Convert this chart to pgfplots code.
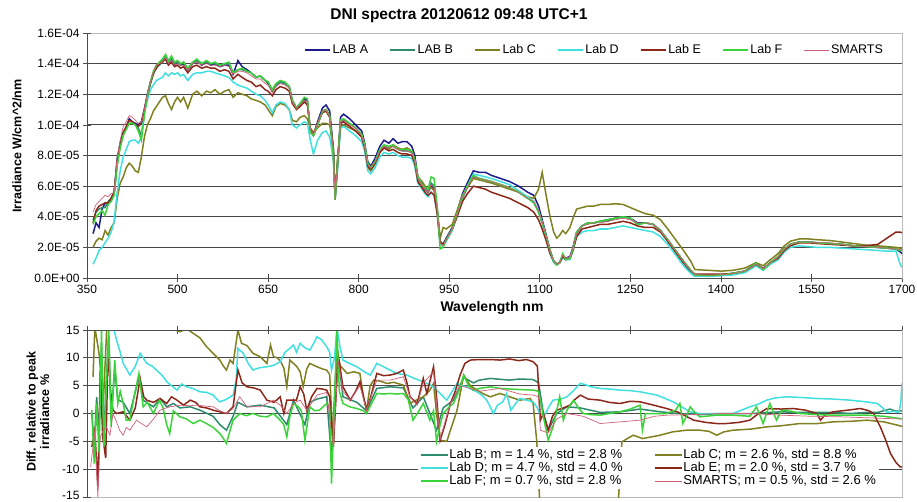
\documentclass[border=0pt]{standalone}
\usepackage{fontspec}
\setmainfont{Liberation Sans}
\usepackage{pgfplots}
\usepackage{pgfplotstable}
\pgfplotsset{compat=1.18}

\definecolor{labA}{RGB}{28,28,140}
\definecolor{labB}{RGB}{46,139,111}
\definecolor{labC}{RGB}{128,128,32}
\definecolor{labD}{RGB}{64,224,224}
\definecolor{labE}{RGB}{140,40,26}
\definecolor{labF}{RGB}{58,212,58}
\definecolor{smarts}{RGB}{208,96,120}

% spectral irradiance, in units of 1e-5 W/cm^2/nm
\pgfplotstableread{
wl A B C D E F S
360 2.9 3.8 2.0 0.9 3.6 3.5 4.3
365 3.6 4.3 2.4 1.3 4.4 4.0 4.8
370 3.3 4.5 2.6 1.8 4.7 4.2 5.0
375 4.5 4.6 2.5 2.0 4.8 4.4 5.2
380 4.9 4.6 3.1 2.3 4.9 4.1 5.4
385 4.8 5.0 2.8 2.6 4.9 4.8 5.3
390 5.2 5.2 3.3 3.0 5.2 5.0 5.5
395 5.6 5.5 3.6 3.7 5.6 5.4 5.6
400 7.8 7.5 5.2 5.6 7.6 7.3 7.9
405 8.8 8.6 6.2 7.0 8.7 8.5 9.0
410 9.5 9.4 6.6 7.9 9.5 9.3 9.9
415 9.8 9.8 7.2 8.4 9.9 9.7 10.2
420 10.4 10.1 7.5 8.9 10.3 10.1 10.6
425 10.2 10.1 7.3 9.0 10.2 10.1 10.5
430 10.1 10.0 7.0 9.0 10.0 10.0 10.3
435 10.0 9.8 6.9 8.8 9.9 9.6 10.1
440 10.2 9.3 7.9 9.2 10.1 9.0 10.2
445 11.0 10.8 9.2 10.8 11.0 10.6 11.0
450 12.0 11.9 10.0 11.6 11.9 11.9 12.0
455 12.8 12.7 10.4 12.3 12.7 12.8 12.8
460 13.4 13.3 10.9 12.6 13.4 13.5 13.5
465 13.9 13.8 11.2 12.9 13.7 13.9 13.9
470 14.0 13.9 11.5 13.0 14.0 14.1 14.0
475 14.1 14.1 11.8 13.1 14.1 14.3 14.1
480 14.4 14.5 11.9 13.4 14.3 14.6 14.4
485 14.0 14.0 11.4 13.2 13.9 14.2 14.0
490 14.2 14.3 11.0 13.4 14.1 14.5 14.2
495 13.9 14.0 11.5 13.3 13.8 14.1 13.9
500 14.1 14.1 11.8 13.4 13.9 14.2 14.0
505 13.9 13.9 11.5 13.2 13.7 14.0 13.9
510 14.0 14.1 11.8 13.3 13.8 14.1 13.9
517 13.6 13.6 11.1 12.9 13.4 13.7 13.6
525 14.0 14.0 12.0 13.3 13.8 14.1 14.0
532 14.2 14.2 12.2 13.4 13.9 14.3 14.1
540 13.9 14.0 11.9 13.4 13.7 14.0 13.9
548 14.1 14.1 12.2 13.5 13.8 14.2 14.0
555 13.9 14.0 12.1 13.5 13.7 14.0 13.9
562 14.0 14.0 12.3 13.4 13.7 14.1 13.9
570 13.8 13.9 12.0 13.3 13.5 13.9 13.8
578 13.9 14.0 12.2 13.2 13.6 14.0 13.9
585 13.9 14.0 12.3 13.1 13.5 14.1 13.8
592 13.3 13.4 11.8 12.8 13.0 13.4 13.3
600 14.2 13.6 12.1 12.6 13.3 13.6 13.5
607 13.8 13.6 12.0 12.5 13.1 13.7 13.5
615 13.6 13.5 11.9 12.4 12.9 13.5 13.4
622 13.4 13.4 11.7 12.2 12.8 13.4 13.2
630 13.1 13.1 11.6 12.0 12.5 13.1 13.0
637 13.2 13.2 11.5 11.9 12.6 13.2 13.0
645 12.9 12.9 11.3 11.6 12.3 12.9 12.7
650 12.7 12.8 11.0 11.3 12.2 12.8 12.6
657 12.2 12.2 10.6 10.8 11.9 12.3 12.1
663 12.6 12.6 11.2 11.3 12.3 12.7 12.5
670 12.8 12.8 11.4 11.5 12.5 12.9 12.7
678 12.7 12.7 11.3 11.4 12.4 12.8 12.6
685 12.5 12.5 11.0 11.0 12.2 12.5 12.4
690 11.6 11.6 10.3 10.0 11.4 11.6 11.5
697 11.1 11.1 10.2 9.8 11.0 11.1 11.1
703 11.4 11.3 10.5 10.0 11.2 11.4 11.3
710 11.7 11.6 10.6 10.2 11.5 11.8 11.6
715 11.6 11.5 10.4 10.1 11.3 11.7 11.5
720 9.6 9.6 9.8 9.0 9.7 9.5 9.7
725 9.3 9.3 9.5 8.1 9.4 9.3 9.4
732 10.2 10.0 9.8 9.0 10.1 10.0 10.1
740 11.1 10.9 10.1 9.5 10.8 10.9 10.9
746 11.3 11.0 10.1 9.6 10.9 11.0 11.0
752 10.9 10.6 10.0 9.2 10.5 10.6 10.6
758 8.5 8.3 8.5 7.8 8.3 8.0 8.4
761 5.3 5.4 5.1 5.2 5.2 5.2 5.3
765 7.5 7.4 7.8 7.0 7.4 7.5 7.5
770 10.5 10.2 9.9 9.8 10.1 10.3 10.2
775 10.7 10.3 10.0 9.9 10.2 10.4 10.3
785 10.4 10.1 9.8 9.6 9.9 10.1 10.0
795 10.0 9.8 9.6 9.3 9.6 9.8 9.8
805 9.6 9.3 9.2 8.9 9.2 9.4 9.3
810 8.8 8.6 8.5 8.3 8.5 8.7 8.6
815 7.6 7.4 7.2 7.0 7.3 7.5 7.4
820 7.3 7.2 7.0 6.8 7.1 7.2 7.2
827 7.8 7.6 7.4 7.2 7.5 7.6 7.6
835 8.6 8.3 8.2 7.9 8.2 8.4 8.3
842 9.0 8.6 8.5 8.2 8.5 8.7 8.6
850 8.8 8.5 8.4 8.1 8.3 8.6 8.5
857 9.1 8.6 8.7 8.2 8.4 8.7 8.6
865 8.8 8.4 8.5 8.0 8.2 8.4 8.4
872 8.9 8.3 8.4 7.9 8.1 8.4 8.3
880 8.9 8.3 8.5 7.9 8.1 8.4 8.3
888 8.6 8.2 8.3 7.8 8.0 8.3 8.2
893 8.0 7.6 7.7 7.3 7.5 7.7 7.6
898 6.6 6.5 6.6 6.2 6.3 6.6 6.5
905 6.2 6.1 6.3 5.8 5.9 6.1 6.1
910 5.8 5.8 6.0 5.5 5.6 5.9 5.8
915 5.6 5.6 5.8 5.3 5.4 5.8 5.6
920 6.0 6.2 5.9 5.6 5.6 6.6 6.1
925 5.8 6.0 5.7 5.4 5.4 6.5 5.9
930 4.4 4.6 4.5 4.3 4.2 4.7 4.5
935 2.4 2.3 2.6 2.2 2.3 1.9 2.3
940 2.2 2.1 3.3 2.1 2.2 2.0 2.1
945 2.6 2.5 3.2 2.4 2.5 2.5 2.5
955 3.3 3.2 3.5 3.1 3.2 3.2 3.2
963 4.3 4.1 4.4 4.1 4.0 4.2 4.2
972 5.5 5.2 5.4 5.3 5.0 5.3 5.3
980 6.2 5.9 5.9 6.0 5.5 6.0 5.9
990 7.0 6.6 6.5 6.8 6.0 6.7 6.6
1000 6.9 6.5 6.4 6.7 5.9 6.5 6.5
1010 6.9 6.4 6.3 6.6 5.8 6.4 6.4
1020 6.7 6.3 6.2 6.5 5.6 6.3 6.3
1035 6.5 6.1 6.0 6.3 5.4 6.1 6.1
1050 6.3 5.9 5.8 6.1 5.2 5.9 5.9
1065 6.0 5.6 5.6 5.7 4.9 5.6 5.6
1080 5.6 5.2 5.3 5.3 4.6 5.2 5.2
1090 5.4 5.0 5.2 5.0 4.3 4.9 5.0
1098 4.7 4.3 5.8 4.4 3.8 4.3 4.4
1104 3.8 3.6 6.9 3.6 3.2 3.6 3.7
1110 2.9 2.8 5.5 2.7 2.5 2.8 2.8
1117 1.8 1.8 4.0 1.6 1.6 1.8 1.8
1123 1.1 1.1 3.0 1.0 1.1 1.1 1.1
1128 0.9 0.9 2.6 0.85 0.9 0.85 0.9
1133 1.0 1.0 2.8 1.0 1.0 1.0 1.0
1138 1.5 1.4 3.1 1.3 1.4 1.6 1.5
1143 1.3 1.2 2.9 1.2 1.2 1.2 1.3
1150 1.4 1.3 3.3 1.2 1.3 1.3 1.4
1155 2.0 1.9 3.9 1.8 1.8 1.9 2.0
1161 3.0 2.9 4.5 2.7 2.7 3.0 2.9
1170 3.4 3.4 4.6 3.0 3.2 3.4 3.4
1180 3.6 3.6 4.7 3.1 3.3 3.6 3.5
1190 3.6 3.6 4.7 3.1 3.4 3.6 3.6
1200 3.7 3.7 4.8 3.2 3.5 3.7 3.6
1212 3.8 3.7 4.8 3.2 3.5 3.8 3.7
1225 3.9 3.9 4.85 3.3 3.6 3.9 3.8
1238 4.0 4.0 4.8 3.4 3.7 4.0 3.9
1250 3.9 3.9 4.6 3.3 3.6 3.9 3.8
1262 3.6 3.5 4.4 3.2 3.4 3.5 3.6
1275 3.6 3.6 4.2 3.1 3.3 3.6 3.6
1288 3.5 3.5 4.1 3.0 3.3 3.5 3.5
1300 3.1 3.1 3.8 2.7 3.0 3.1 3.1
1312 2.4 2.5 3.2 2.2 2.4 2.5 2.5
1325 1.7 1.8 2.5 1.5 1.7 1.8 1.8
1338 1.0 1.1 1.8 0.8 1.0 1.1 1.1
1350 0.4 0.5 1.1 0.3 0.5 0.5 0.5
1357 0.15 0.2 0.55 0.1 0.25 0.2 0.2
1380 0.15 0.15 0.5 0.1 0.25 0.15 0.2
1400 0.2 0.2 0.45 0.15 0.25 0.2 0.2
1420 0.3 0.3 0.5 0.2 0.3 0.3 0.3
1440 0.45 0.45 0.65 0.35 0.45 0.45 0.45
1458 0.95 0.9 1.0 0.8 0.9 0.95 0.9
1470 0.6 0.6 0.8 0.5 0.6 0.55 0.6
1482 1.0 1.0 1.2 0.9 1.0 1.0 1.0
1495 1.4 1.4 1.6 1.2 1.3 1.4 1.4
1505 1.9 1.9 2.1 1.7 1.8 1.9 1.9
1515 2.2 2.2 2.4 2.0 2.1 2.2 2.2
1530 2.35 2.35 2.55 2.1 2.3 2.35 2.35
1545 2.35 2.35 2.55 2.05 2.3 2.35 2.35
1560 2.3 2.3 2.5 2.0 2.25 2.3 2.3
1580 2.25 2.25 2.45 2.0 2.2 2.25 2.3
1600 2.2 2.2 2.35 1.95 2.15 2.2 2.2
1620 2.1 2.1 2.25 1.9 2.1 2.1 2.1
1640 2.05 2.05 2.15 1.85 2.1 2.05 2.05
1660 2.0 2.0 2.1 1.8 2.2 2.0 2.0
1675 1.95 1.95 2.05 1.75 2.6 1.95 1.95
1690 1.9 1.9 2.0 1.75 3.0 1.9 1.9
1697 1.7 1.8 1.95 0.9 3.0 1.8 1.85
1700 1.6 1.8 1.95 0.7 2.95 1.8 1.85
}\topdata

\pgfplotsset{
  myaxis/.style={
    scale only axis, width=815pt,
    xmin=350, xmax=1700,
    xtick={350,500,...,1700},
    /pgf/number format/assume math mode=true,
    /pgf/number format/1000 sep={},
    tick label style={font=\fontsize{12}{14}\selectfont, text=black},
    tick align=center, major tick length=8pt,
    tick style={black!70, line width=0.7pt},
    ytick pos=left,
    axis line style={draw=gray!55, line width=0.8pt},
    ymajorgrids, grid style={black!72, line width=0.9pt},
    legend cell align=left,
  },
  legimg/.style={legend image code/.code={\draw[##1] (0pt,0pt) -- (#1,0pt);}},
  lab/.style={line width=1.5pt, #1},
}

\begin{document}
\begin{tikzpicture}
\useasboundingbox (0pt,0pt) rectangle (917pt,501pt);

% ---------- top: spectra ----------
\begin{axis}[myaxis,
  at={(87pt,223pt)}, anchor=south west, height=245pt,
  ymin=0, ymax=16,
  xtick pos=left,
  ytick={0,2,...,14},
  yticklabels={0.0E+00,2.0E-05,4.0E-05,6.0E-05,8.0E-05,1.0E-04,1.2E-04,1.4E-04},
  extra y ticks={16}, extra y tick labels={1.6E-04},
  extra y tick style={grid=none},
  legend columns=7, legimg=25pt,
  legend style={draw=none, fill=white, at={(0.983,0.931)}, anchor=east,
    font=\fontsize{12.5}{14}\selectfont, inner sep=3pt,
    /tikz/every even column/.append style={column sep=19pt}},
]
\addplot[lab=labA] table[x=wl,y=A] {\topdata}; \addlegendentry{LAB A}
\addplot[lab=labB] table[x=wl,y=B] {\topdata}; \addlegendentry{LAB B}
\addplot[lab=labC] table[x=wl,y=C] {\topdata}; \addlegendentry{Lab C}
\addplot[lab=labD] table[x=wl,y=D] {\topdata}; \addlegendentry{Lab D}
\addplot[lab=labE] table[x=wl,y=E] {\topdata}; \addlegendentry{Lab E}
\addplot[lab=labF] table[x=wl,y=F] {\topdata}; \addlegendentry{Lab F}
\addplot[smarts, line width=0.7pt] table[x=wl,y=S] {\topdata}; \addlegendentry{SMARTS}
\draw[black!70, line width=0.9pt] (rel axis cs:0,1) -- (rel axis cs:0,0) -- (rel axis cs:1,0);
\end{axis}

% ---------- bottom: differences ----------
\begin{axis}[myaxis,
  at={(87pt,4pt)}, anchor=south west, height=167pt,
  ymin=-15, ymax=15,
  xtick pos=right, xticklabels={},
  ytick={-10,-5,...,15},
  yticklabels={-10,-5,0,5,10,15},
  extra y ticks={-15}, extra y tick labels={-15},
  extra y tick style={grid=none, tick label style={yshift=2pt}},
  legend columns=2, legimg=27pt,
  legend style={draw=none, fill=white, at={(0.972,0.174)}, anchor=east,
    font=\fontsize{13}{14}\selectfont, inner sep=2pt,
    nodes={inner sep=1pt},
    /tikz/every even column/.append style={column sep=30pt}},
]
\addplot[lab=labB] coordinates {(358,0)(362,-6)(366,3)(370,-4)(374,12)(378,-4)(382,6)(386,14)(390,-1)(396,8)(401,2.5)(410,2)(421,0)(436,6.5)(443,2.4)(460,1.2)(471,2.7)(482,1.2)(493,1.8)(504,1.0)(521,1.2)(537,0.6)(559,-0.5)(570,-2)(581,-3)(592,-0.5)(600,2)(615,1.2)(637,1.5)(660,1.0)(681,-2)(692,2.4)(711,-2)(719,2)(731,2.6)(747,3)(755,-8)(764,12)(774,3)(797,2)(813,0.5)(830,4.5)(852,4.8)(874,4.6)(890,1)(907,3)(929,-3)(940,1)(957,2.4)(974,6.5)(990,5.5)(1000,6.0)(1018,6.3)(1050,6.0)(1067,6.2)(1089,6.1)(1098,5.5)(1106,0)(1114,-3)(1128,0)(1145,1.2)(1167,1.0)(1200,0.2)(1233,0.3)(1266,0.8)(1300,0.3)(1330,0)(1365,-0.2)(1400,0)(1450,0)(1500,0.3)(1530,0.2)(1586,0.2)(1614,0)(1642,0.2)(1660,0.2)(1680,0.8)(1690,0.4)(1700,0.5)};
\addlegendentry{Lab B; m = 1.4 \%, std = 2.8 \%}
\addplot[lab=labC] coordinates {(360,6.6)(363,15.5)(370,10.8)(377,1.8)(383,16)(390,20)(400,25)(420,28)(440,24)(460,20)(470,17)(476,15)(490,15.2)(504,14.7)(515,15.2)(526,14.4)(537,13.6)(548,12)(559,10.8)(570,9.6)(576,8.5)(581,7.8)(587,9.6)(592,9.0)(600,15)(606,12.6)(615,12.2)(625,10.8)(637,10.2)(648,9)(654,12.3)(659,10.2)(665,10.0)(670,9.5)(676,8.2)(681,4.8)(686,9.6)(692,9.0)(697,8.5)(703,7.5)(708,4.8)(714,8)(719,9)(731,8.4)(740,8)(747,7.8)(752,7)(758,-6)(764,10.8)(770,8.5)(781,7.2)(792,7.5)(802,7.2)(808,3.0)(813,0.6)(819,5)(825,6)(836,5.8)(847,5.4)(858,5.6)(874,5.1)(885,1.8)(897,2.5)(907,3.0)(918,4.2)(924,5.4)(929,0)(935,-4.8)(946,-5)(955,-2)(963,0.6)(974,6.9)(985,5.0)(996,4.2)(1007,3.5)(1018,3.0)(1034,3.6)(1050,3)(1067,2.4)(1084,2.7)(1089,1.8)(1095,-5)(1100,-16)(1110,-22)(1130,-25)(1160,-22)(1200,-18)(1230,-16)(1236,-5.1)(1245,-4.5)(1255,-3.9)(1270,-4.5)(1285,-4.2)(1299,-3.9)(1320,-3.3)(1343,-3.0)(1365,-3.0)(1380,-3.2)(1393,-3.9)(1405,-3.3)(1420,-3.0)(1450,-2.8)(1476,-2.4)(1500,-2.2)(1531,-1.8)(1560,-1.8)(1586,-1.5)(1615,-1.4)(1642,-1.2)(1670,-1.5)(1700,-2.3)};
\addlegendentry{Lab C; m = 2.6 \%, std = 8.8 \%}
\addplot[lab=labD] coordinates {(360,15.5)(370,18)(380,16)(390,17)(399,13.2)(405,11)(410,9.0)(421,6.9)(430,8.5)(438,10.8)(449,9.0)(458,8.5)(465,7.8)(475,6.8)(482,5.7)(499,4.2)(507,5.3)(515,4.8)(525,4.5)(537,3.9)(548,3.8)(559,3.3)(565,2.6)(570,2.1)(580,2.5)(592,3.3)(597,6)(600,11.7)(609,10.8)(617,9)(625,7.8)(635,8.2)(648,8.4)(658,8.6)(670,9.3)(678,11)(686,11.7)(692,12.3)(697,11)(703,12.6)(711,11.8)(719,11.4)(725,12.5)(731,13.8)(739,13.2)(747,12)(752,11)(755,7.8)(760,10)(764,15.5)(769,12)(774,9.6)(785,9)(797,8.4)(808,7.6)(819,6.9)(824,7.8)(830,9)(841,8.4)(852,7.8)(863,7.2)(880,6.9)(890,6.4)(907,5.7)(915,5.3)(923,4.8)(935,3.6)(946,2.4)(955,4)(963,5.4)(971,5)(979,4.8)(988,4.3)(996,3.9)(1005,3.2)(1012,2.4)(1018,1.2)(1023,0)(1030,1.5)(1039,2.1)(1045,3.6)(1052,0.6)(1060,1.8)(1067,2.7)(1078,2.4)(1089,2.1)(1096,1)(1100,0)(1108,-0.3)(1115,1.2)(1122,2.4)(1135,2.6)(1145,3)(1155,4)(1167,5.4)(1175,5.2)(1185,4.8)(1200,4.5)(1215,4.4)(1233,4.2)(1250,4.1)(1266,3.9)(1280,3.6)(1294,3.3)(1310,2.6)(1321,2.1)(1335,1.2)(1349,0.3)(1365,0)(1393,0)(1420,0)(1448,1.2)(1460,1.6)(1476,2.4)(1490,2.8)(1509,3.0)(1530,2.9)(1559,2.7)(1585,2.6)(1614,2.4)(1640,2.1)(1659,1.8)(1668,1.0)(1675,0.2)(1685,0.4)(1695,0.2)(1698,2)(1700,5.4)};
\addlegendentry{Lab D; m = 4.7 \%, std = 4.0 \%}
\addplot[lab=labE] coordinates {(358,-6)(363,-3)(368,-13.2)(372,7.8)(376,-4.2)(381,-8)(385,12)(389,4)(393,0.6)(399,0)(410,0.3)(421,-1.2)(430,1)(438,6.3)(444,3)(449,2.4)(460,2.0)(471,2.7)(482,1.8)(490,3)(499,2.4)(510,1.5)(521,2.4)(530,2.0)(537,1.2)(548,1.0)(559,0.6)(570,0.3)(581,0)(592,1.2)(600,7.8)(607,5.5)(615,4.8)(626,4.6)(637,4.2)(648,2.4)(660,2.0)(670,3.0)(676,0)(681,2.4)(692,2.4)(697,2.4)(703,4.8)(709,3.5)(714,0.6)(722,3.0)(731,4.5)(740,4.4)(747,4.2)(752,3)(758,-6)(762,2)(766,10.5)(774,4.8)(786,2.4)(795,4)(802,5.7)(808,3)(813,0.6)(820,3)(830,7.2)(841,6.8)(852,6.9)(863,7.2)(874,7.8)(880,5.5)(885,3)(897,1.8)(907,6.3)(913,3.6)(924,8.4)(929,3)(935,-4.8)(943,-2)(952,1.8)(960,4)(968,6.9)(976,9)(985,9.6)(1000,9.7)(1018,9.7)(1034,9.6)(1050,9.8)(1065,9.5)(1078,9.7)(1089,9.3)(1096,8.5)(1101,-1.2)(1106,0)(1114,-3)(1121,-0.5)(1128,0.6)(1139,1)(1150,1.5)(1158,2.5)(1167,3.3)(1180,2.6)(1200,2.4)(1215,2.0)(1233,1.8)(1250,2.2)(1266,2.1)(1285,1.6)(1310,0.9)(1330,0.2)(1355,-1.2)(1375,-1.6)(1393,-1.8)(1409,-1.8)(1430,-1.6)(1448,-1.2)(1460,-0.2)(1476,0.9)(1500,0.8)(1520,0.9)(1540,0.6)(1559,0)(1565,-1.2)(1572,-0.3)(1586,0.3)(1610,0.6)(1631,0.9)(1645,0.5)(1653,0)(1664,-2.4)(1672,-4.5)(1681,-7.2)(1690,-8.8)(1697,-9.6)(1700,-9.6)};
\addlegendentry{Lab E; m = 2.0 \%, std = 3.7 \%}
\addplot[lab=labF] coordinates {(358,0.6)(362,-9)(366,1.8)(370,-7)(374,15)(378,-6)(382,5)(386,15.5)(390,-2.4)(396,9.6)(401,1.8)(405,4)(410,1.8)(415,-1.2)(421,-1.2)(428,3)(436,7.2)(443,1.2)(450,2)(460,0)(470,2.4)(476,1)(482,-2)(487,-3.6)(493,0.5)(504,-0.6)(515,-1.0)(526,-1.8)(537,-1.2)(548,-1.8)(559,-2.5)(570,-3.6)(576,-4.5)(581,-5.4)(587,-3)(592,-1.2)(603,0)(614,-0.4)(625,0)(637,-0.5)(648,-0.6)(659,0)(670,-1.2)(676,-2)(681,-4.2)(686,-0.6)(692,1.8)(700,1.2)(705,0.5)(711,-4.8)(719,1.2)(727,0.5)(735,0.6)(747,1.8)(752,1.2)(755,-12.6)(760,2)(764,15)(768,4)(774,1.8)(785,1.2)(797,0.9)(808,0.5)(813,0)(820,1.5)(830,3.6)(841,3.5)(852,3.6)(863,3.5)(874,3.6)(882,2.5)(890,-1.2)(900,0.5)(907,1.8)(918,-1.2)(924,0.5)(929,-5)(935,-2)(940,0)(950,1.2)(957,1.8)(966,4)(974,6.9)(982,5)(990,4.2)(1000,4.5)(1018,4.8)(1034,4.5)(1050,4.4)(1067,4.3)(1089,4.2)(1098,4.0)(1106,-0.6)(1114,-4.8)(1122,-2.4)(1128,0.5)(1133,3)(1139,-1.2)(1145,0.6)(1156,2.4)(1164,1)(1172,0)(1185,-0.2)(1200,-0.3)(1215,0)(1233,0.3)(1250,0.8)(1266,1.5)(1270,-3)(1275,0)(1290,0)(1310,0)(1325,0.6)(1332,1.8)(1337,-1.8)(1343,-0.5)(1349,1.2)(1357,0.2)(1365,-0.6)(1393,-0.3)(1420,-0.3)(1448,-0.5)(1459,1.2)(1470,-1.8)(1481,1.8)(1492,-1.2)(1500,0.5)(1509,0.6)(1531,0)(1560,-0.2)(1586,-0.3)(1614,-0.3)(1642,-0.3)(1670,-0.5)(1697,-0.9)(1700,-0.9)};
\addlegendentry{Lab F; m = 0.7 \%, std = 2.8 \%}
\addplot[smarts, line width=0.7pt] coordinates {(356,-9.6)(360,-6)(363,-3)(368,-15)(372,-4.2)(377,-3)(382,-2.4)(388,-3.9)(393,0)(399,-1.5)(404,-3)(410,-3.9)(415,-2.5)(421,-3)(432,-1.2)(440,-1.8)(449,-2.4)(460,-1)(471,0.6)(487,1.2)(504,1.5)(521,1.4)(532,1.5)(548,1.3)(559,1.2)(570,0.5)(581,0)(592,0.9)(603,3)(615,1.2)(637,1.2)(648,1.8)(659,2.4)(670,1.5)(681,0)(692,1.8)(703,2.4)(714,0.6)(731,3.3)(747,3.8)(758,-6)(766,9.5)(774,4)(786,2.4)(802,5)(813,0.6)(830,6.0)(852,6.0)(874,6.6)(885,3)(897,1.5)(907,5.5)(924,7.5)(935,-4.5)(952,1.8)(968,5)(985,4.5)(1000,4.0)(1034,4.5)(1067,3.5)(1089,3.3)(1098,3.0)(1101,-3)(1114,-3.5)(1128,-1)(1145,0)(1172,-0.5)(1200,-1.8)(1233,-1.5)(1266,-1.2)(1290,-0.5)(1310,-0.3)(1350,-0.2)(1400,0)(1450,0)(1500,-0.3)(1550,-0.5)(1600,-0.6)(1650,-0.8)(1700,-1.0)};
\addlegendentry{SMARTS; m = 0.5 \%, std = 2.6 \%}
\draw[black!70, line width=0.9pt] (rel axis cs:0,0) -- (rel axis cs:0,1) -- (rel axis cs:1,1);
\end{axis}

% ---------- titles and axis labels ----------
\node[font=\fontsize{15.5}{18}\selectfont\bfseries] at (459pt,485pt) {DNI spectra 20120612 09:48 UTC+1};
\node[font=\fontsize{12.5}{14}\selectfont\bfseries, rotate=90] at (17pt,355pt) {Irradiance W/cm\textasciicircum 2/nm};
\node[font=\fontsize{14}{16}\selectfont\bfseries] at (492pt,193pt) {Wavelength nm};
\node[font=\fontsize{12.5}{13.5}\selectfont\bfseries, rotate=90, align=center] at (38pt,89pt) {Diff. relative to peak\\irradiance \%};
\end{tikzpicture}
\end{document}
